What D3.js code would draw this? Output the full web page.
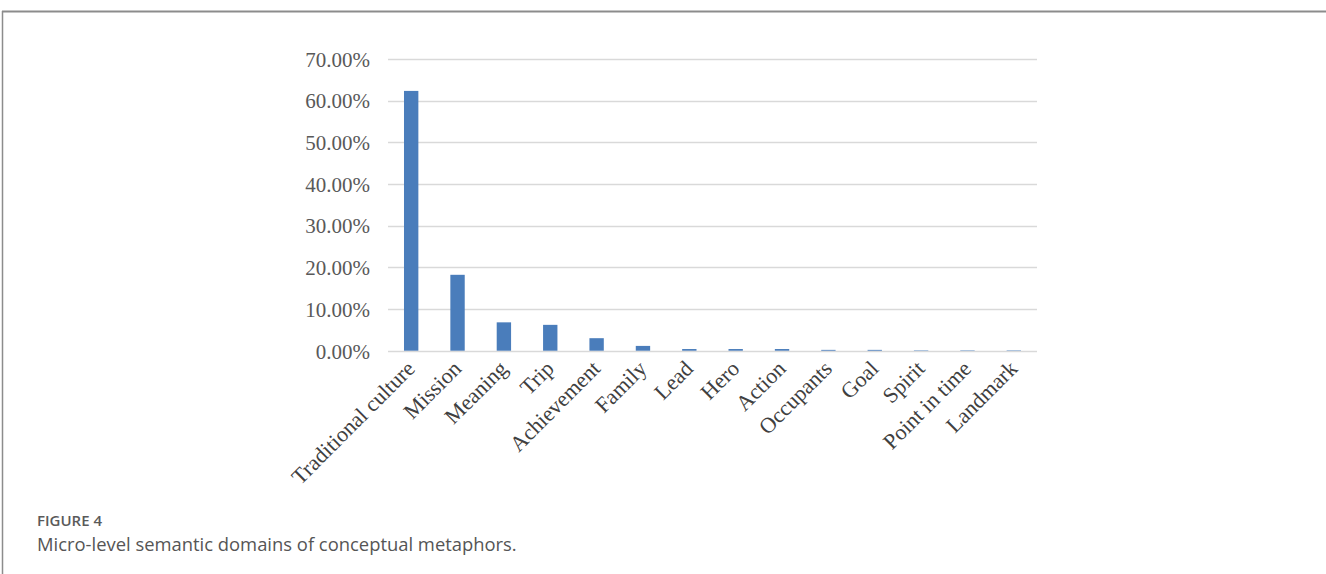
<!DOCTYPE html>
<html>
<head>
<meta charset="utf-8">
<script src="https://cdn.jsdelivr.net/npm/d3@7"></script>
<style>
  html, body { margin: 0; padding: 0; background: #fff; }
  svg { display: block; }
</style>
</head>
<body>
<svg id="chart" width="1326" height="574"></svg>
<script>
const categories = ["Traditional culture", "Mission", "Meaning", "Trip", "Achievement", "Family", "Lead", "Hero", "Action", "Occupants", "Goal", "Spirit", "Point in time", "Landmark"];
const values = [62.3, 18.2, 6.8, 6.2, 3.0, 1.15, 0.4, 0.4, 0.4, 0.2, 0.2, 0.1, 0.1, 0.1];
const yTicks = [0, 10, 20, 30, 40, 50, 60, 70];
const figureLabel = "FIGURE 4";
const captionText = "Micro-level semantic domains of conceptual metaphors.";

const svg = d3.select("#chart");

// frame lines (top and left)
svg.append("line").attr("x1", 2).attr("x2", 1326).attr("y1", 11.5).attr("y2", 11.5)
  .attr("stroke", "#8c8c8c").attr("stroke-width", 2);
svg.append("line").attr("x1", 2.5).attr("x2", 2.5).attr("y1", 11).attr("y2", 574)
  .attr("stroke", "#8c8c8c").attr("stroke-width", 1.5);

const x = d3.scaleBand().domain(categories).range([388, 1037]).paddingInner(0.69).paddingOuter(0.345);
const y = d3.scaleLinear().domain([0, 70]).range([350.7, 58.8]);

// gridlines
svg.append("g").selectAll("line").data(yTicks).join("line")
  .attr("x1", 388).attr("x2", 1037)
  .attr("y1", d => Math.round(y(d)) + 0.5).attr("y2", d => Math.round(y(d)) + 0.5)
  .attr("stroke", "#d9d9d9").attr("stroke-width", 1.3);

// y axis labels
const yAxis = d3.axisLeft(y).tickValues(yTicks).tickSize(0).tickPadding(0)
  .tickFormat(d => d3.format(".2f")(d) + "%");
const gy = svg.append("g").attr("transform", "translate(370,0)").call(yAxis);
gy.select(".domain").remove();
gy.selectAll("text")
  .attr("font-family", "'Liberation Serif', 'Times New Roman', serif")
  .attr("font-size", 21).attr("fill", "#595959").attr("dy", "0.35em");

// bars
svg.append("g").selectAll("rect").data(values).join("rect")
  .attr("x", (d, i) => x(categories[i]))
  .attr("width", x.bandwidth())
  .attr("y", d => y(d))
  .attr("height", d => y(0) - y(d))
  .attr("fill", "#4a7dbb");

// x axis labels
const xAxis = d3.axisBottom(x).tickSize(0).tickPadding(0);
const gx = svg.append("g").attr("transform", "translate(0,351)").call(xAxis);
gx.select(".domain").remove();
gx.selectAll("text")
  .attr("font-family", "'Liberation Serif', 'Times New Roman', serif")
  .attr("font-size", 22).attr("fill", "#404040")
  .attr("text-anchor", "end")
  .attr("dy", null).attr("y", null)
  .attr("transform", "translate(5,19) rotate(-45)");

// caption
svg.append("text").attr("x", 37).attr("y", 526)
  .attr("font-family", "'Open Sans', sans-serif").attr("font-size", 15).attr("font-weight", 600)
  .attr("fill", "#5a5a5a").text(figureLabel);
svg.append("text").attr("x", 37).attr("y", 551)
  .attr("font-family", "'Open Sans', sans-serif").attr("font-size", 18.4)
  .attr("fill", "#555").text(captionText);
</script>
</body>
</html>
